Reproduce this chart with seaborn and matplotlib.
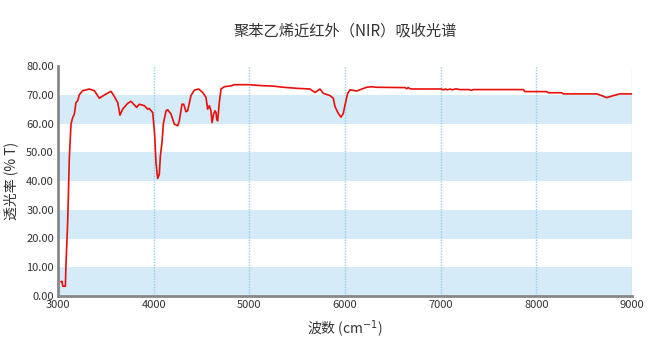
import numpy as np
import pandas as pd
import matplotlib
matplotlib.use("Agg")
import matplotlib.pyplot as plt
import seaborn as sns

title = "聚苯乙烯近红外（NIR）吸收光谱"
x_label = "波数 (cm$^{-1}$)"
y_label = "透光率 (% T)"

wavenumber = [3030, 3042, 3050, 3077, 3084, 3101, 3118, 3136, 3153, 3171, 3188, 3206, 3223,
              3258, 3328, 3380, 3432, 3484, 3554, 3589, 3624, 3648, 3676, 3728, 3763, 3822,
              3850, 3902, 3937, 3955, 3990, 4010, 4024, 4042, 4059, 4070, 4087, 4101, 4129,
              4146, 4181, 4216, 4251, 4268, 4296, 4314, 4338, 4355, 4390, 4425, 4470, 4512,
              4547, 4564, 4582, 4599, 4610, 4627, 4641, 4652, 4659, 4669, 4686, 4704, 4739,
              4808, 4843, 5000, 5111, 5251, 5355, 5512, 5634, 5686, 5739, 5773, 5843, 5878,
              5895, 5930, 5958, 5982, 6000, 6028, 6052, 6122, 6226, 6279, 6331, 6575, 6627,
              6645, 6660, 6680, 6710, 7010, 7030, 7050, 7070, 7100, 7120, 7150, 7170, 7200,
              7300, 7320, 7340, 7400, 7864, 7880, 8108, 8122, 8265, 8280, 8630, 8683, 8735,
              8805, 8874, 9000]
transmittance = [5.0, 5.1, 3.4, 3.4, 11.5, 25.5, 47.6, 59.8, 62.0, 63.3, 67.3, 67.9, 70.0,
                 71.4, 72.0, 71.4, 68.8, 69.9, 71.2, 69.4, 67.3, 62.9, 65.0, 67.0, 67.7, 65.6,
                 66.7, 66.2, 65.0, 65.2, 63.8, 56.3, 46.4, 40.9, 42.3, 48.7, 53.4, 59.8, 64.4,
                 64.8, 63.3, 59.8, 59.2, 60.9, 66.7, 66.7, 64.1, 64.4, 69.7, 71.6, 72.0, 70.8,
                 69.1, 65.0, 66.2, 64.4, 60.3, 63.3, 64.4, 63.8, 61.5, 60.9, 67.3, 72.0, 72.8,
                 73.1, 73.5, 73.5, 73.2, 73.0, 72.6, 72.2, 72.0, 70.8, 72.0, 70.5, 69.7, 68.8,
                 65.9, 63.5, 62.2, 63.5, 66.4, 70.5, 71.7, 71.3, 72.6, 72.8, 72.6, 72.5, 72.5,
                 72.1, 72.5, 72.1, 72.0, 72.0, 71.7, 72.0, 71.7, 72.0, 71.7, 72.0, 72.0, 71.8,
                 71.8, 71.5, 71.8, 71.8, 71.8, 71.1, 71.1, 70.7, 70.7, 70.3, 70.3, 69.7, 69.0,
                 69.7, 70.3, 70.3]

x_ticks = [3000, 4000, 5000, 6000, 7000, 8000, 9000]
y_ticks = [0, 10, 20, 30, 40, 50, 60, 70, 80]

df = pd.DataFrame({"wavenumber": wavenumber, "transmittance": transmittance})

sns.set_theme(style="white")
plt.rcParams["font.family"] = ["Noto Sans CJK SC", "DejaVu Sans"]
plt.rcParams["mathtext.fontset"] = "dejavusans"

fig = plt.figure(figsize=(6.63, 3.59), dpi=100)
ax = fig.add_axes([58 / 663, 1 - 296 / 359, (632 - 58) / 663, (296 - 66) / 359])

for lo in [0, 20, 40, 60]:
    ax.axhspan(lo, lo + 10, color="#d5ebf8", lw=0, zorder=0)
for xv in x_ticks[1:]:
    ax.axvline(xv, color="#8fd0f5", lw=1.0, ls=(0, (1, 1)), zorder=1)

sns.lineplot(data=df, x="wavenumber", y="transmittance", ax=ax, color="#e8100a",
             lw=1.2, zorder=3)

ax.set_xlim(3000, 9000)
ax.set_ylim(0, 80)
ax.set_xticks(x_ticks)
ax.set_yticks(y_ticks)
ax.set_yticklabels([f"{v:.2f}" for v in y_ticks])
ax.tick_params(axis="both", length=0, labelsize=8, colors="#333333", pad=3)

for s in ["top", "right"]:
    ax.spines[s].set_visible(False)
for s in ["left", "bottom"]:
    ax.spines[s].set_color("#888888")
    ax.spines[s].set_linewidth(2)

ax.set_xlabel(x_label, fontsize=10, color="#333333", labelpad=6)
ax.set_ylabel(y_label, fontsize=10, color="#333333", labelpad=6)
ax.set_title(title, fontsize=11, color="#333333", pad=22)

fig.savefig("out.png", dpi=100)
